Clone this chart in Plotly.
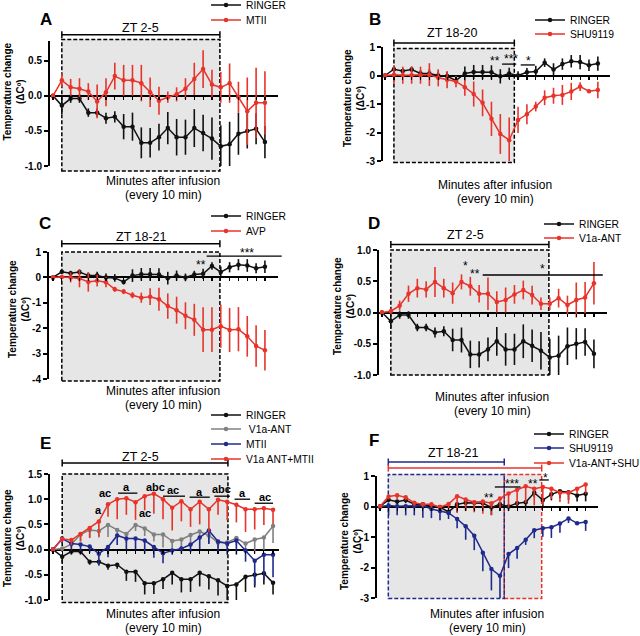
import plotly.graph_objects as go

W, H = 640, 636
FONT = "Liberation Sans, Arial, Helvetica, sans-serif"

# ---------------- data ----------------
time_points = list(range(25))  # samples every 10 min after infusion

ringer_day = [0.00, -0.14, -0.04, -0.04, -0.24, -0.24, -0.32, -0.30, -0.44, -0.44, -0.67, -0.67, -0.59,
              -0.46, -0.59, -0.59, -0.46, -0.53, -0.61, -0.72, -0.69, -0.54, -0.50, -0.47, -0.66]
ringer_day_err = [0.00, 0.12, 0.06, 0.06, 0.06, 0.06, 0.08, 0.08, 0.18, 0.20, 0.22, 0.21, 0.19,
                  0.23, 0.26, 0.25, 0.27, 0.26, 0.30, 0.30, 0.32, 0.30, 0.25, 0.22, 0.23]

mtii = [0.00, 0.22, 0.12, 0.10, 0.06, -0.08, 0.05, 0.28, 0.22, 0.22, 0.18, 0.05, -0.07,
        -0.02, 0.02, 0.10, 0.24, 0.38, 0.16, 0.12, 0.18, -0.02, -0.22, -0.10, -0.10]
mtii_err = [0.00, 0.10, 0.12, 0.15, 0.12, 0.24, 0.20, 0.19, 0.22, 0.22, 0.26, 0.21, 0.20,
            0.08, 0.10, 0.15, 0.23, 0.27, 0.21, 0.22, 0.28, 0.22, 0.48, 0.50, 0.45]

v1a_ant = [0.00, 0.02, 0.11, 0.30, 0.39, 0.37, 0.49, 0.39, 0.31, 0.49, 0.42, 0.30, 0.30,
           0.17, 0.20, 0.29, 0.36, 0.28, 0.14, 0.14, 0.23, 0.12, 0.20, 0.24, 0.47]
v1a_ant_err = [0.00, 0.05, 0.08, 0.13, 0.15, 0.13, 0.24, 0.15, 0.17, 0.12, 0.15, 0.14, 0.26,
               0.17, 0.20, 0.15, 0.15, 0.15, 0.10, 0.10, 0.15, 0.15, 0.28, 0.25, 0.34]

v1a_mtii = [0.00, 0.21, 0.19, 0.31, 0.43, 0.56, 0.90, 1.00, 1.02, 0.94, 1.06, 1.11, 1.00,
            0.83, 0.96, 0.80, 0.95, 0.80, 0.99, 0.95, 0.89, 0.80, 0.80, 0.82, 0.79]
v1a_mtii_err = [0.00, 0.05, 0.10, 0.15, 0.20, 0.30, 0.25, 0.40, 0.33, 0.35, 0.28, 0.40, 0.40,
                0.45, 0.40, 0.35, 0.45, 0.45, 0.30, 0.37, 0.35, 0.45, 0.40, 0.33, 0.28]

ringer_night = [0.00, 0.22, 0.16, 0.21, 0.07, 0.07, 0.00, -0.02, -0.18, 0.07, 0.12, 0.12, 0.11,
                -0.03, 0.07, 0.00, 0.11, 0.14, 0.45, 0.21, 0.40, 0.50, 0.47, 0.36, 0.42]
ringer_night_err = [0.00, 0.08, 0.10, 0.10, 0.12, 0.15, 0.15, 0.15, 0.10, 0.25, 0.25, 0.25, 0.25,
                    0.25, 0.20, 0.15, 0.15, 0.20, 0.15, 0.22, 0.20, 0.22, 0.25, 0.20, 0.25]

shu9119 = [0.00, 0.03, 0.01, 0.01, 0.01, 0.03, -0.08, -0.15, -0.21, -0.41, -0.65, -0.96, -1.52,
           -2.05, -2.27, -1.56, -1.36, -1.09, -0.78, -0.71, -0.68, -0.56, -0.39, -0.55, -0.51]
shu9119_err = [0.00, 0.32, 0.30, 0.30, 0.30, 0.40, 0.30, 0.30, 0.20, 0.30, 0.44, 0.47, 0.60,
               0.70, 0.80, 0.46, 0.35, 0.17, 0.26, 0.28, 0.35, 0.30, 0.15, 0.06, 0.29]

avp = [0.00, 0.02, 0.00, -0.04, -0.18, -0.13, -0.19, -0.47, -0.56, -0.70, -0.80, -0.76, -0.86,
       -1.13, -1.29, -1.51, -1.67, -2.06, -2.06, -1.92, -2.07, -2.04, -2.32, -2.70, -2.87]
avp_err = [0.00, 0.05, 0.20, 0.35, 0.38, 0.23, 0.20, 0.10, 0.10, 0.12, 0.20, 0.33, 0.45,
           0.50, 0.53, 0.53, 0.63, 0.88, 0.88, 0.85, 0.87, 0.87, 0.80, 0.82, 0.80]

v1a_shu = [0.00, 0.33, 0.37, 0.30, 0.12, 0.07, 0.07, -0.02, 0.08, 0.34, 0.23, 0.14, 0.16,
           0.11, 0.26, 0.43, 0.55, 0.66, 0.58, 0.64, 0.58, 0.45, 0.45, 0.58, 0.72]
v1a_shu_err = [0.00, 0.10, 0.12, 0.10, 0.10, 0.08, 0.10, 0.10, 0.20, 0.55, 0.38, 0.33, 0.40,
               0.40, 0.33, 0.47, 0.50, 0.55, 0.54, 0.60, 0.33, 0.30, 0.36, 0.16, 0.30]

ticks_a = [-1.0, -0.5, 0.0, 0.5]
ticktext_a = ["-1.0", "-0.5", "0.0", "0.5"]
ticks_b = [-3, -2, -1, 0, 1]
ticktext_b = ["-3", "-2", "-1", "0", "1"]
ticks_c = [-4, -3, -2, -1, 0, 1]
ticktext_c = ["-4", "-3", "-2", "-1", "0", "1"]
ticks_d = [-1.0, -0.5, 0.0, 0.5, 1.0]
ticktext_d = ["-1.0", "-0.5", "0.0", "0.5", "1.0"]
ticks_e = [-1.0, -0.5, 0.0, 0.5, 1.0, 1.5]
ticktext_e = ["-1.0", "-0.5", "0.0", "0.5", "1.0", "1.5"]
ticks_f = [-3, -2, -1, 0, 1]
ticktext_f = ["-3", "-2", "-1", "0", "1"]

RED = '#e8332a'
BLACK = '#111111'
GREY = '#808080'
BLUE = '#1f2a8c'
BOXFILL = '#e6e6e6'


def fx(px):
    return px / W


def fy(py):
    return 1 - py / H


panels = {
    'A': dict(n=1, xd=(50, 278), yd=(41, 166), xr=(-0.34, 25.48), yr=(-1.0, 0.78), tv=ticks_a, tt=ticktext_a),
    'B': dict(n=2, xd=(383, 610), yd=(47, 161), xr=(-0.23, 25.37), yr=(-3, 1), tv=ticks_b, tt=ticktext_b),
    'C': dict(n=3, xd=(49, 278), yd=(252, 379), xr=(-0.45, 25.48), yr=(-4, 1), tv=ticks_c, tt=ticktext_c),
    'D': dict(n=4, xd=(379, 607), yd=(250, 375), xr=(-0.34, 25.48), yr=(-1, 1), tv=ticks_d, tt=ticktext_d),
    'E': dict(n=5, xd=(50, 279), yd=(474, 600), xr=(-0.33, 24.65), yr=(-1, 1.5), tv=ticks_e, tt=ticktext_e),
    'F': dict(n=6, xd=(377, 598), yd=(476, 598), xr=(-0.35, 25.44), yr=(-3, 1), tv=ticks_f, tt=ticktext_f),
}


def to_px(p, xv, yv):
    x0, x1 = p['xd']
    r0, r1 = p['xr']
    px = x0 + (xv - r0) / (r1 - r0) * (x1 - x0)
    t, b = p['yd']
    s0, s1 = p['yr']
    py = b - (yv - s0) / (s1 - s0) * (b - t)
    return px, py


fig = go.Figure()
layout = {}
shapes = []
annotations = []

# axes
for key, p in panels.items():
    n = p['n']
    sx = '' if n == 1 else str(n)
    zero_py = to_px(p, 0, 0)[1]
    layout['xaxis' + sx] = dict(
        domain=[fx(p['xd'][0]), fx(p['xd'][1])], range=list(p['xr']),
        anchor='free', position=fy(zero_py), showline=False, showgrid=False, zeroline=False,
        ticks='outside', ticklen=3, tickwidth=1.2, tickcolor='black', automargin=False,
        tickmode='array', tickvals=time_points, showticklabels=False, fixedrange=True)
    layout['yaxis' + sx] = dict(
        domain=[fy(p['yd'][1]), fy(p['yd'][0])], range=list(p['yr']),
        anchor='x' + sx, showline=True, linecolor='black', linewidth=2, automargin=False,
        ticks='outside', ticklen=4, tickwidth=2, tickcolor='black',
        tickmode='array', tickvals=p['tv'], ticktext=p['tt'],
        tickfont=dict(family=FONT, size=10, color='black', weight='bold'),
        showgrid=False, zeroline=True, zerolinecolor='black', zerolinewidth=2, fixedrange=True)

legend_count = [0]


def add_series(p, name, y, err, color, one_sided, lx, ly):
    legend_count[0] += 1
    k = legend_count[0]
    lname = 'legend' if k == 1 else 'legend%d' % k
    n = p['n']
    sx = '' if n == 1 else str(n)
    if one_sided:
        ey = dict(type='data', symmetric=False, array=[0] * len(err), arrayminus=err,
                  color=color, thickness=1.6, width=0)
    else:
        ey = dict(type='data', array=err, color=color, thickness=1.6, width=0)
    fig.add_trace(go.Scatter(
        x=time_points, y=y, name=name, mode='lines+markers',
        line=dict(color=color, width=1.5), marker=dict(color=color, size=4.5),
        error_y=ey, xaxis='x' + sx, yaxis='y' + sx, legend=lname, showlegend=True))
    layout[lname] = dict(x=fx(lx - 41), y=fy(ly), xanchor='left', yanchor='middle',
                         xref='container', yref='container',
                         bgcolor='rgba(0,0,0,0)', borderwidth=0, itemwidth=30,
                         font=dict(family=FONT, size=10.3, color='black'))


pA, pB, pC, pD, pE, pF = (panels[k] for k in 'ABCDEF')

add_series(pA, 'RINGER', ringer_day, ringer_day_err, BLACK, False, 247, 5)
add_series(pA, 'MTII', mtii, mtii_err, RED, False, 247, 20)
add_series(pB, 'RINGER', ringer_night, ringer_night_err, BLACK, False, 571, 20)
add_series(pB, 'SHU9119', shu9119, shu9119_err, RED, False, 571, 34)
add_series(pC, 'RINGER', ringer_night, ringer_night_err, BLACK, False, 247, 216)
add_series(pC, 'AVP', avp, avp_err, RED, False, 247, 231)
add_series(pD, 'RINGER', ringer_day, ringer_day_err, BLACK, False, 580, 224)
add_series(pD, 'V1a-ANT', v1a_ant, v1a_ant_err, RED, False, 580, 238)
add_series(pE, 'RINGER', ringer_day, ringer_day_err, BLACK, True, 247, 415)
add_series(pE, ' V1a-ANT', v1a_ant, v1a_ant_err, GREY, True, 247, 429)
add_series(pE, 'MTII', mtii, mtii_err, BLUE, True, 247, 444)
add_series(pE, 'V1a ANT+MTII', v1a_mtii, v1a_mtii_err, RED, True, 247, 459)
add_series(pF, 'RINGER', ringer_night, ringer_night_err, BLACK, True, 570, 434)
add_series(pF, 'SHU9119', shu9119, shu9119_err, BLUE, True, 570, 448)
add_series(pF, 'V1a-ANT+SHU', v1a_shu, v1a_shu_err, RED, True, 570, 463)


# ---------------- decorations ----------------
def add_line(px0, py0, px1, py1, color='black', width=1.2):
    shapes.append(dict(type='line', xref='paper', yref='paper', x0=fx(px0), y0=fy(py0),
                       x1=fx(px1), y1=fy(py1), line=dict(color=color, width=width), layer='above'))


def add_data_line(p, xa, xb, yv, color='black', width=1.3):
    pa, py = to_px(p, xa, yv)
    pb, _ = to_px(p, xb, yv)
    add_line(pa, py, pb, py, color, width)


def add_box(p, xa, xb, ya, yb, fill=None, line_color=None):
    pxa, pya = to_px(p, xa, ya)
    pxb, pyb = to_px(p, xb, yb)
    shapes.append(dict(type='rect', xref='paper', yref='paper', x0=fx(pxa), x1=fx(pxb),
                       y0=fy(pya), y1=fy(pyb), fillcolor=fill or 'rgba(0,0,0,0)',
                       line=dict(color=line_color or 'rgba(0,0,0,0)', width=1.5 if line_color else 0,
                                 dash='4px,2px'),
                       layer='below'))


def add_bracket(p, xa, xb, yv, color='black'):
    pxa, py = to_px(p, xa, yv)
    pxb, _ = to_px(p, xb, yv)
    add_line(pxa, py, pxb, py, color, 1.5)
    add_line(pxa, py - 3.5, pxa, py + 3.5, color, 1.5)
    add_line(pxb, py - 3.5, pxb, py + 3.5, color, 1.5)


def add_text(px, py, text, size=12, bold=False, color='black', angle=0, yshift=0):
    annotations.append(dict(x=fx(px), y=fy(py), xref='paper', yref='paper', text=text,
                            showarrow=False, textangle=angle, xanchor='center', yanchor='middle',
                            yshift=yshift,
                            font=dict(family=FONT, size=size, color=color,
                                      weight='bold' if bold else 'normal')))


def add_data_text(p, xv, yv, text, size=12, bold=False, yshift=0):
    px, py = to_px(p, xv, yv)
    add_text(px, py, text, size=size, bold=bold, yshift=yshift)


def star(p, xv, yv, text):
    add_data_text(p, xv, yv, text, size=12, yshift=-2.5)


# shaded ZT windows
add_box(pA, 1, 18.9, -1.07, 0.80, BOXFILL, 'black')
add_box(pB, 1, 14.58, -3.05, 0.95, BOXFILL, 'black')
add_box(pC, 1, 18.9, -4.08, 1.0, BOXFILL, 'black')
add_box(pD, 1, 18.9, -1.0, 1.0, BOXFILL, 'black')
add_box(pE, 1, 19.08, -1.05, 1.5, BOXFILL, 'black')
add_box(pF, 0.97, 18.87, -3.02, 1.05, BOXFILL, None)
add_box(pF, 14.5, 18.87, -3.02, 1.05, None, RED)
add_box(pF, 0.97, 14.5, -3.02, 1.05, None, BLUE)

# ZT brackets
add_bracket(pA, 1, 18.9, 0.87)
add_bracket(pB, 1, 14.58, 1.14)
add_bracket(pC, 1, 18.9, 1.32)
add_bracket(pD, 1, 18.9, 1.09)
add_bracket(pE, 1, 19.08, 1.72)
add_bracket(pF, 0.97, 14.5, 1.46, BLUE)
add_bracket(pF, 0.97, 18.87, 1.26, RED)

# ZT labels
add_text(140, 28, 'ZT 2-5', size=12.5)
add_text(452, 33, 'ZT 18-20', size=12.5)
add_text(141, 237, 'ZT 18-21', size=12.5)
add_text(465, 235, 'ZT 2-5', size=12.5)
add_text(140, 457, 'ZT 2-5', size=12.5)
add_text(453, 453, 'ZT 18-21', size=12.5)

# panel letters
for letter, (lx, ly) in zip('ABCDEF', [(46, 19), (375, 19), (45, 224), (374, 224), (45, 443), (374, 440)]):
    add_text(lx, ly, letter, size=17, bold=True)

# y titles
for (tx, ty) in [(13.5, 92), (354, 98), (19, 309), (344, 306), (14, 538), (351, 541)]:
    add_text(tx, ty, 'Temperature change<br>(ΔCº)', size=10, bold=True, angle=-90)

# x titles
for (tx, ty) in [(163, 181), (495, 185), (163, 391), (492, 397), (163, 614), (487, 614)]:
    add_text(tx, ty, 'Minutes after infusion', size=12)
    add_text(tx, ty + 13.5, '(every 10 min)', size=12)

# significance marks B
star(pB, 12.4, 0.58, '**')
star(pB, 14.2, 0.65, '***')
add_data_line(pB, 13.2, 14.8, 0.40)
star(pB, 16.2, 0.61, '*')
add_data_line(pB, 15.3, 16.9, 0.37)
# C
star(pC, 16.8, 0.57, '**')
star(pC, 22.0, 1.04, '***')
add_data_line(pC, 17.4, 25.9, 0.84)
# D
star(pD, 9.4, 0.79, '*')
star(pD, 10.5, 0.66, '**')
star(pD, 18.2, 0.74, '*')
add_data_line(pD, 11.4, 25.0, 0.60)
# F
star(pF, 12.7, 0.35, '**')
star(pF, 15.4, 0.81, '***')
add_data_line(pF, 13.4, 16.4, 0.64)
star(pF, 17.9, 0.81, '**')
star(pF, 19.3, 1.01, '*')
add_data_line(pF, 18.6, 19.7, 0.87)

# E letters
for (xv, yv, t) in [(5.0, 0.79, 'a'), (5.7, 1.12, 'ac'), (8.0, 1.24, 'a'), (11.2, 1.24, 'abc'),
                    (10.0, 0.73, 'ac'), (13.1, 1.18, 'ac'), (16.0, 1.15, 'a'), (18.4, 1.20, 'abc'),
                    (20.7, 1.12, 'a'), (23.1, 1.04, 'ac')]:
    add_data_text(pE, xv, yv, t, size=11, bold=True)
for (xa, xb, yv) in [(7.1, 9.2, 1.12), (12.0, 14.4, 1.06), (14.9, 17.1, 1.04), (17.6, 19.3, 1.06),
                     (19.8, 21.5, 1.00), (22.0, 24.0, 0.92)]:
    add_data_line(pE, xa, xb, yv, 'black', 1.3)

fig.update_layout(
    template='none',
    width=W, height=H, margin=dict(l=0, r=0, t=0, b=0, autoexpand=False),
    paper_bgcolor='white', plot_bgcolor='rgba(0,0,0,0)',
    showlegend=True, shapes=shapes, annotations=annotations,
    font=dict(family=FONT, color='black'),
    **layout)

fig.write_html("out.html",
               config={'displayModeBar': False, 'staticPlot': True},
               post_script="document.body.style.margin='0';document.body.style.overflow='hidden';")
